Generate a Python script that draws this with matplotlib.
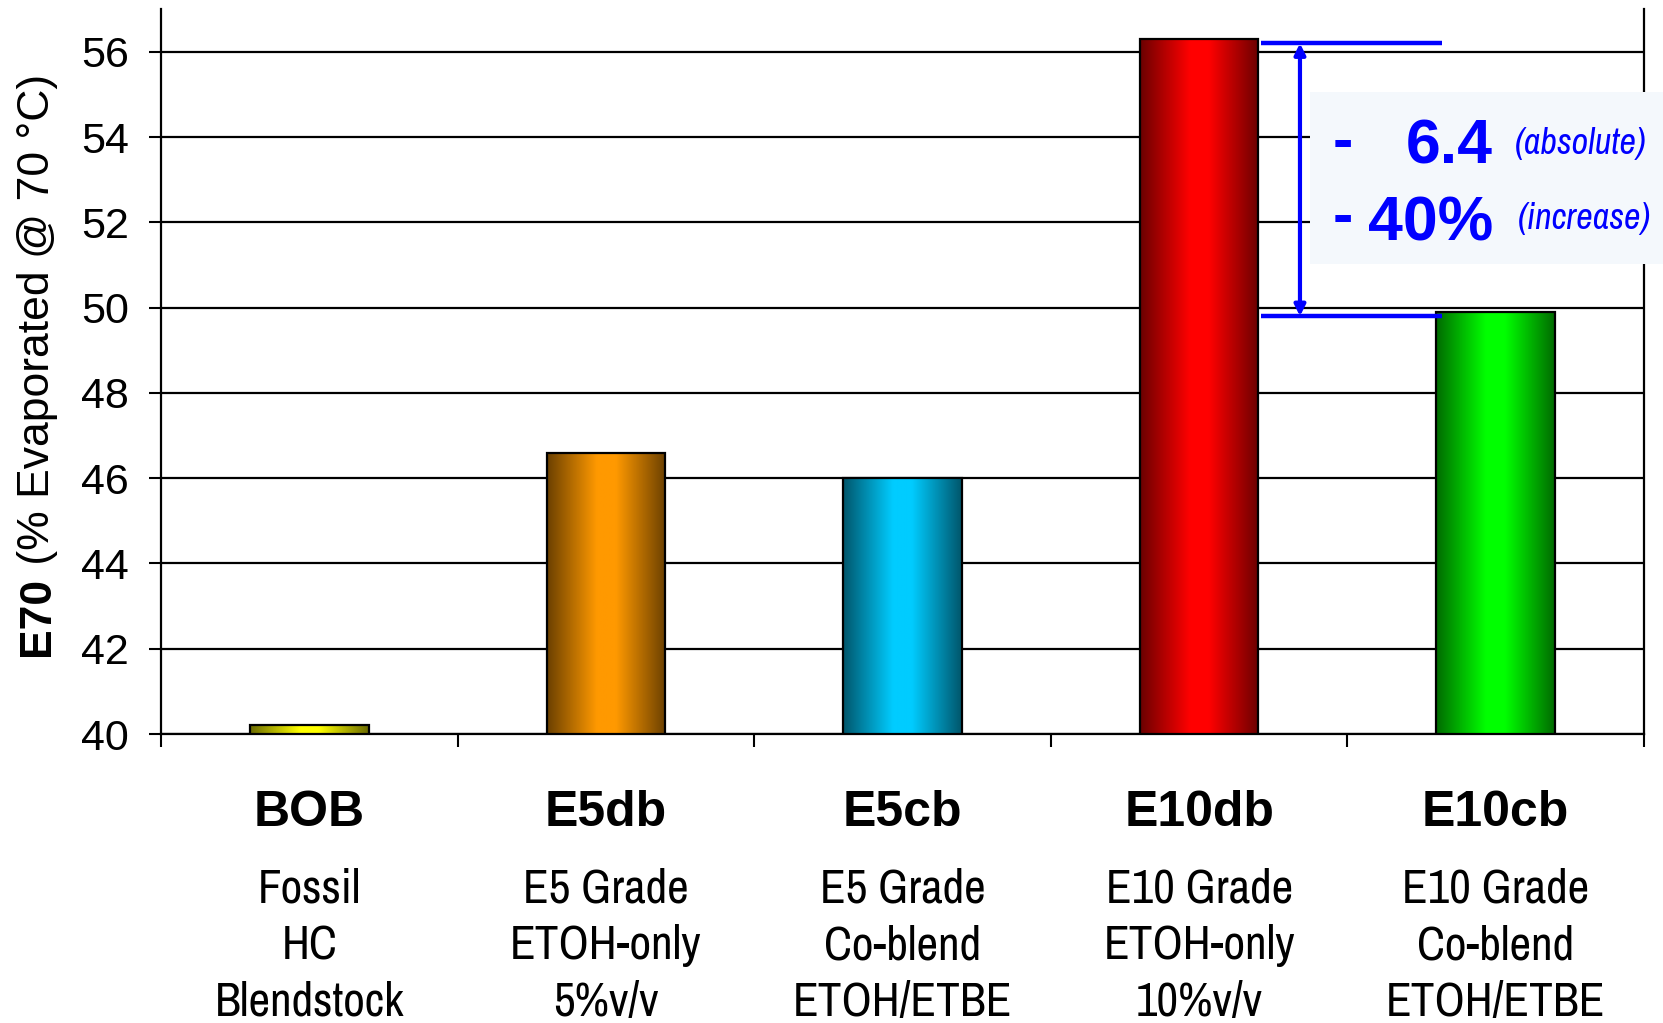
import os
import numpy as np
import matplotlib.pyplot as plt
from matplotlib import font_manager
from matplotlib.font_manager import FontProperties
from matplotlib.patches import Rectangle

# E70 values for each fuel
categories = ['BOB', 'E5db', 'E5cb', 'E10db', 'E10cb']
descriptions = [
    ['Fossil', 'HC', 'Blendstock'],
    ['E5 Grade', 'ETOH-only', '5%v/v'],
    ['E5 Grade', 'Co-blend', 'ETOH/ETBE'],
    ['E10 Grade', 'ETOH-only', '10%v/v'],
    ['E10 Grade', 'Co-blend', 'ETOH/ETBE'],
]
e70_values = [40.2, 46.6, 46.0, 56.3, 49.9]
bar_colours = ['#FFFF00', '#FF9900', '#00CCFF', '#FF0000', '#00FF00']
y_ticks = [40, 42, 44, 46, 48, 50, 52, 54, 56]

abs_change = 6.4
pct_change = 40

plt.rcParams['font.family'] = ['Liberation Sans', 'DejaVu Sans']


def narrow_font(size, italic=False):
    """Pick a narrow/condensed sans face if one is installed."""
    best = None
    for f in font_manager.fontManager.ttflist:
        name = f.name.lower()
        fname = os.path.basename(f.fname).lower()
        tag = name + ' ' + fname
        if 'mono' in tag or 'serif' in name.replace('sans', ''):
            continue
        if f.weight not in (400, 'normal', 'regular'):
            continue
        if (f.style in ('italic', 'oblique')) != italic:
            continue
        if 'narrow' in tag:
            rank = 0
        elif 'extracondensed' in tag or 'extra-condensed' in tag or f.stretch == 'extra-condensed':
            rank = 3
        elif 'semicondensed' in tag or 'semi-condensed' in tag or f.stretch == 'semi-condensed':
            rank = 2
        elif 'condensed' in tag or f.stretch == 'condensed':
            rank = 1
        else:
            continue
        if best is None or rank < best[0]:
            best = (rank, f.fname)
    if best is None:
        return FontProperties(family='Liberation Sans', size=size * 0.85,
                              style='italic' if italic else 'normal')
    return FontProperties(fname=best[1], size=size)


fig = plt.figure(figsize=(16.63, 10.23), dpi=100)
ax = fig.add_axes([0.0968, 0.2825, 0.8918, 0.7085])

ymin, ymax = 40, 57
bar_w = 0.4

# shaded "cylinder" look: dark edges, bright middle
t = np.linspace(0, 1, 200)
shade = np.interp(t, [0, 0.42, 0.58, 1], [0.42, 1.0, 1.0, 0.42])

for i, (val, col) in enumerate(zip(e70_values, bar_colours)):
    rgb = np.array(plt.matplotlib.colors.to_rgb(col))
    img = (shade[:, None] * rgb[None, :])[None, :, :]
    ax.imshow(img, extent=[i - bar_w / 2, i + bar_w / 2, ymin, val],
              aspect='auto', interpolation='bilinear', zorder=3)
    ax.add_patch(Rectangle((i - bar_w / 2, ymin), bar_w, val - ymin,
                           facecolor='none', edgecolor='black', lw=1.6, zorder=4))

ax.set_xlim(-0.5, len(categories) - 0.5)
ax.set_ylim(ymin, ymax)

# axes styling
ax.set_yticks(y_ticks)
ax.set_yticklabels([str(v) for v in y_ticks], fontsize=31)
ax.tick_params(axis='y', direction='out', length=9, width=1.5, pad=14)
ax.set_xticks(np.arange(-0.5, len(categories), 1.0))
ax.set_xticklabels([])
ax.tick_params(axis='x', direction='out', length=9, width=1.5)
ax.grid(axis='y', color='black', lw=1.6, zorder=1)
ax.set_axisbelow(True)
ax.spines['top'].set_visible(False)
for s in ['left', 'right', 'bottom']:
    ax.spines[s].set_linewidth(1.6)
    ax.spines[s].set_zorder(2)

# category labels below the axis
desc_font = narrow_font(34)
xt = ax.get_xaxis_transform()
for i, (name, lines) in enumerate(zip(categories, descriptions)):
    ax.text(i, -0.109, name, transform=xt, ha='center', va='center',
            fontsize=36, fontweight='bold')
    for j, line in enumerate(lines):
        ax.text(i, -0.214 - j * 0.078, line, transform=xt, ha='center',
                va='center', fontproperties=desc_font)

# y axis title: bold "E70" followed by regular text
fig.canvas.draw()
renderer = fig.canvas.get_renderer()
xb = 49 / 1663
t1 = fig.text(xb, 0, 'E70', rotation=90, rotation_mode='anchor', ha='left',
              va='baseline', fontsize=32, fontweight='bold')
t2 = fig.text(xb, 0, ' (% Evaporated @ 70 °C)', rotation=90, rotation_mode='anchor',
              ha='left', va='baseline', fontsize=32)
h1 = t1.get_window_extent(renderer).height / fig.bbox.height
h2 = t2.get_window_extent(renderer).height / fig.bbox.height
y0 = 0.643 - (h1 + h2) / 2
t1.set_y(y0)
t2.set_y(y0 + h1)

# difference annotation between E10db and E10cb
top, bottom = e70_values[3], e70_values[4]
ax.plot([3.21, 3.82], [top - 0.1, top - 0.1], color='blue', lw=3.2, zorder=5,
        solid_capstyle='butt', clip_on=False)
ax.plot([3.21, 3.82], [bottom - 0.1, bottom - 0.1], color='blue', lw=3.2, zorder=5,
        solid_capstyle='butt', clip_on=False)
ax.annotate('', xy=(3.34, top - 0.1), xytext=(3.34, bottom - 0.1),
            arrowprops=dict(arrowstyle='<|-|>', color='blue', lw=3,
                            mutation_scale=16, shrinkA=0, shrinkB=0), zorder=6)
ax.add_patch(Rectangle((3.374, 51.03), 1.3, 4.03, facecolor='#F4F8FC',
                       edgecolor='none', zorder=6, clip_on=False))
note_font = narrow_font(26, italic=True)
ax.text(3.45, 53.86, '-', color='blue', fontsize=44, fontweight='bold',
        ha='left', va='center', zorder=7)
ax.text(3.99, 53.37, f'{abs_change}', color='blue', fontsize=45, fontweight='bold',
        ha='right', va='baseline', zorder=7)
ax.text(4.065, 53.86, '(absolute)', color='blue', fontproperties=note_font,
        ha='left', va='center', zorder=7, clip_on=False)
ax.text(3.45, 52.08, '-', color='blue', fontsize=44, fontweight='bold',
        ha='left', va='center', zorder=7)
ax.text(3.99, 51.57, f'{pct_change}%', color='blue', fontsize=45, fontweight='bold',
        ha='right', va='baseline', zorder=7)
ax.text(4.075, 52.08, '(increase)', color='blue', fontproperties=note_font,
        ha='left', va='center', zorder=7, clip_on=False)

fig.savefig('out.png', dpi=100)
